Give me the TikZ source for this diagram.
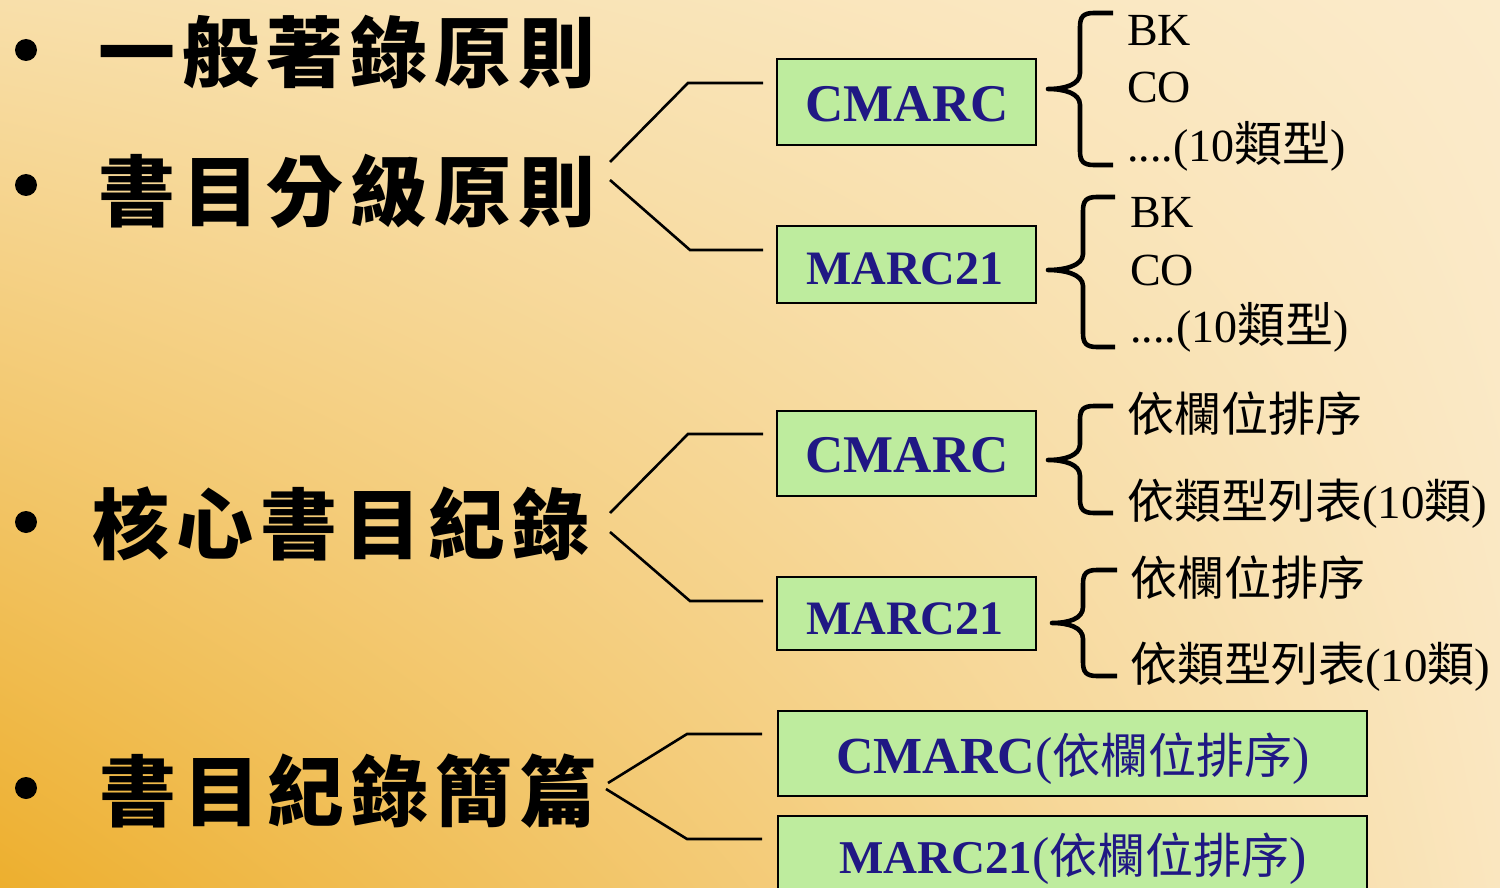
\documentclass[tikz,border=0pt]{standalone}
\usepackage{fontspec}
\usetikzlibrary{shadings}
\setmainfont{Liberation Serif}
\newfontfamily\cjk{Noto Sans CJK TC}
\newcommand\zh[1]{{\cjk #1}}
\newcommand\hgap{\kern7pt}
\definecolor{bgUL}{HTML}{F8DFAA}
\definecolor{bgUR}{HTML}{FBEBCB}
\definecolor{bgLL}{HTML}{EDAF2E}
\definecolor{bgLR}{HTML}{FAE6BF}
\definecolor{boxgreen}{RGB}{190,236,158}
\definecolor{navy}{RGB}{32,24,132}
\newcommand\curly[6]{% tipx, vx, rightx, top, tipy, bottom
  \draw[brc] (#3,#4) -- ({#2+14},#4) .. controls ({#2+3},#4) and (#2,{#4+4}) .. (#2,{#4+14})
    -- (#2,{#5-16}) .. controls (#2,{#5-4}) and ({#1+16},#5) .. (#1,#5)
    .. controls ({#1+16},#5) and (#2,{#5+4}) .. (#2,{#5+16})
    -- (#2,{#6-14}) .. controls (#2,{#6-4}) and ({#2+3},#6) .. ({#2+14},#6) -- (#3,#6);}
\begin{document}
\begin{tikzpicture}[x=1pt,y=-1pt,
  conn/.style={line width=2.6pt},
  brc/.style={line width=4.6pt, line join=round},
  box/.style={draw=black, line width=2.8pt, fill=boxgreen, inner sep=0pt},
  bul/.style={circle, fill=black, inner sep=0pt, minimum size=22pt},
  head/.style={anchor=base west, inner sep=0pt, font=\cjk\bfseries\fontsize{77}{90}\selectfont},
  lab/.style={anchor=center, inner sep=0pt, text=navy, font=\bfseries\fontsize{53}{60}\selectfont},
  labs/.style={lab, font=\bfseries\fontsize{48}{60}\selectfont},
  blab/.style={anchor=base, inner sep=0pt, text=navy},
  item/.style={anchor=base west, inner sep=0pt, font=\fontsize{46}{50}\selectfont},
  itemz/.style={anchor=base west, inner sep=0pt, font=\fontsize{47}{50}\selectfont},
]
\useasboundingbox (0,0) rectangle (1500,888);
\shade[upper left=bgUL, upper right=bgUR, lower left=bgLL, lower right=bgLR] (0,0) rectangle (1500,888);

% bullets and headings
\node[bul] (b1) at (26,50) {};
\node[bul] (b2) at (26,185) {};
\node[bul] (b3) at (26,522) {};
\node[bul] (b4) at (26,788) {};
\node[head] (h1) at (98,82) {一\hgap 般\hgap 著\hgap 錄\hgap 原\hgap 則};
\node[head] (h2) at (98,220) {書\hgap 目\hgap 分\hgap 級\hgap 原\hgap 則};
\node[head] (h3) at (92,553) {核\hgap 心\hgap 書\hgap 目\hgap 紀\hgap 錄};
\node[head] (h4) at (99,820) {書\hgap 目\hgap 紀\hgap 錄\hgap 簡\hgap 篇};

% group 1
\coordinate (g1s1) at (610,162); \coordinate (g1k1) at (688,83); \coordinate (g1e1) at (763,83);
\coordinate (g1s2) at (610,180); \coordinate (g1k2) at (690,250); \coordinate (g1e2) at (763,250);
\draw[conn] (g1s1) -- (g1k1) -- (g1e1);
\draw[conn] (g1s2) -- (g1k2) -- (g1e2);
\node[box, minimum width=259pt, minimum height=86pt] (c1) at (906.5,102) {};
\node[lab] (c1t) at (907,104) {CMARC};
\node[box, minimum width=259pt, minimum height=77pt] (m1) at (906.5,264.5) {};
\node[labs] (m1t) at (905,268.5) {MARC21};
\curly{1048}{1080}{1113}{13}{89}{165}
\node[item] (i1a) at (1127,46) {BK};
\node[item] (i1b) at (1127,103) {CO};
\node[item] (i1c) at (1127,161) {....(10{\cjk\fontsize{48}{50}\selectfont 類型})};
\curly{1048}{1083}{1115}{197}{270}{347}
\node[item] (i2a) at (1130,227) {BK};
\node[item] (i2b) at (1130,285) {CO};
\node[item] (i2c) at (1130,342) {....(10{\cjk\fontsize{48}{50}\selectfont 類型})};

% group 2
\coordinate (g2s1) at (610,513); \coordinate (g2k1) at (688,434); \coordinate (g2e1) at (763,434);
\coordinate (g2s2) at (610,532); \coordinate (g2k2) at (690,601); \coordinate (g2e2) at (763,601);
\draw[conn] (g2s1) -- (g2k1) -- (g2e1);
\draw[conn] (g2s2) -- (g2k2) -- (g2e2);
\node[box, minimum width=259pt, minimum height=85pt] (c2) at (906.5,453.5) {};
\node[lab] (c2t) at (907,455.5) {CMARC};
\node[box, minimum width=259pt, minimum height=73pt] (m2) at (906.5,613.5) {};
\node[labs] (m2t) at (905,618.5) {MARC21};
\curly{1048}{1080}{1113}{406}{460}{513}
\node[itemz] (i3a) at (1127,431) {\zh{依欄位排序}};
\node[itemz] (i3b) at (1127,518) {\zh{依類型列表}(10\zh{類})};
\curly{1052}{1083}{1117}{570}{623}{676}
\node[itemz] (i4a) at (1130,595) {\zh{依欄位排序}};
\node[itemz] (i4b) at (1130,681) {\zh{依類型列表}(10\zh{類})};

% group 3
\coordinate (g3s1) at (608,783); \coordinate (g3k1) at (687,734); \coordinate (g3e1) at (762,734);
\coordinate (g3s2) at (606,789); \coordinate (g3k2) at (687,839); \coordinate (g3e2) at (762,839);
\draw[conn] (g3s1) -- (g3k1) -- (g3e1);
\draw[conn] (g3s2) -- (g3k2) -- (g3e2);
\node[box, minimum width=589pt, minimum height=85pt] (c3) at (1072.5,753.5) {};
\node[blab] (c3t) at (1073,773) {{\bfseries\fontsize{52}{60}\selectfont CMARC}{\fontsize{52}{60}\selectfont(}{\cjk\fontsize{48}{60}\selectfont 依欄位排序}{\fontsize{52}{60}\selectfont)}};
\node[box, minimum width=589pt, minimum height=90pt] (m3) at (1072.5,861) {};
\node[blab] (m3t) at (1073,873) {{\bfseries\fontsize{47}{60}\selectfont MARC21}{\fontsize{52}{60}\selectfont(}{\cjk\fontsize{48}{60}\selectfont 依欄位排序}{\fontsize{52}{60}\selectfont)}};
\end{tikzpicture}
\end{document}
